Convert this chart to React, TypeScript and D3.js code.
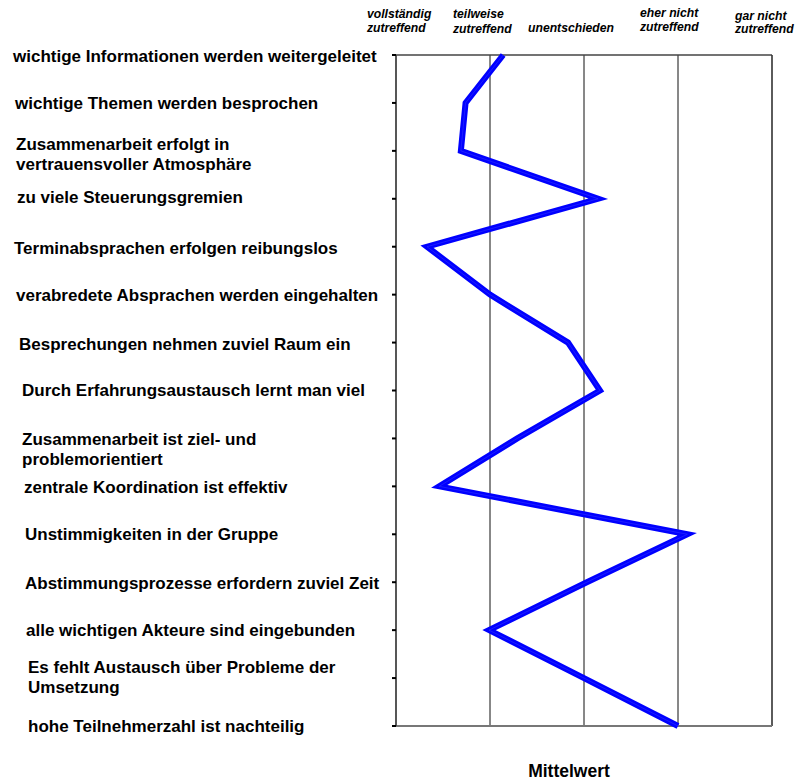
import React from "react";
import * as d3 from "d3";

const categories: string[][] = [
  ["wichtige Informationen werden weitergeleitet"],
  ["wichtige Themen werden besprochen"],
  ["Zusammenarbeit erfolgt in", "vertrauensvoller Atmosphäre"],
  ["zu viele Steuerungsgremien"],
  ["Terminabsprachen erfolgen reibungslos"],
  ["verabredete Absprachen werden eingehalten"],
  ["Besprechungen nehmen zuviel Raum ein"],
  ["Durch Erfahrungsaustausch lernt man viel"],
  ["Zusammenarbeit ist ziel- und", "problemorientiert"],
  ["zentrale Koordination ist effektiv"],
  ["Unstimmigkeiten in der Gruppe"],
  ["Abstimmungsprozesse erfordern zuviel Zeit"],
  ["alle wichtigen Akteure sind eingebunden"],
  ["Es fehlt Austausch über Probleme der", "Umsetzung"],
  ["hohe Teilnehmerzahl ist nachteilig"],
];

const meanValues: number[] = [2.14, 1.74, 1.69, 3.15, 1.33, 2.0, 2.83, 3.17, 2.29, 1.46, 4.1, 3.03, 1.99, 3.0, 4.0];

const scaleTicks: number[] = [1, 2, 3, 4, 5];
const scaleLabels: string[][] = [
  ["vollständig", "zutreffend"],
  ["teilweise", "zutreffend"],
  ["unentschieden"],
  ["eher nicht", "zutreffend"],
  ["gar nicht", "zutreffend"],
];

const axisTitle = "Mittelwert";

// layout tweaks (label jitter as in the original picture)
const labelLeft = [13, 15, 16, 17, 14, 16, 19, 22, 22, 24, 25, 25, 26, 28, 28];
const labelShift = [1, 0, 3, -2, 1, 0, 1, 0, 11, 1, 0, 1, 0, -1, 0];
const headerLeft = [367, 453, 528, 640, 735];
const headerTop = [[14, 27.5], [14, 29], [28], [12.5, 27], [16, 29]];

export default function App() {
  const W = 797, H = 780;
  const left = 396, right = 772, top = 55, bottom = 726;
  const x = d3.scaleLinear().domain([1, 5]).range([left, right]);
  const y = d3
    .scalePoint<number>()
    .domain(d3.range(categories.length))
    .range([top, bottom]);

  const line = d3
    .line<number>()
    .x((d) => x(d))
    .y((_, i) => y(i) as number);

  const font = "'Liberation Sans', Arial, sans-serif";

  return (
    <svg
      width={W}
      height={H}
      style={{ position: "absolute", left: 0, top: 0, background: "#fff" }}
      fontFamily={font}
    >
      <rect x={0} y={0} width={W} height={H} fill="#fff" />
      {/* inner gridlines */}
      {scaleTicks.slice(1, -1).map((t) => (
        <line key={t} x1={x(t)} x2={x(t)} y1={top} y2={bottom} stroke="#111" strokeWidth={1} />
      ))}
      {/* frame */}
      <line x1={left} x2={right} y1={top} y2={top} stroke="#444" strokeWidth={1.6} />
      <line x1={right} x2={right} y1={top} y2={bottom} stroke="#333" strokeWidth={1.6} />
      <line x1={left} x2={right} y1={bottom} y2={bottom} stroke="#777" strokeWidth={1.8} />
      <line x1={left} x2={left} y1={top} y2={bottom} stroke="#444" strokeWidth={1.8} />
      {/* left ticks */}
      {categories.map((_, i) => (
        <line
          key={i}
          x1={left - 4}
          x2={left}
          y1={y(i) as number}
          y2={y(i) as number}
          stroke="#000"
          strokeWidth={2}
        />
      ))}
      {/* data line */}
      <path
        d={line(meanValues) || ""}
        fill="none"
        stroke="#0000ff"
        strokeWidth={6}
        strokeLinejoin="miter"
        strokeMiterlimit={10}
      />
      <path
        d={line(meanValues) || ""}
        fill="none"
        stroke="#3a3aff"
        strokeWidth={0.8}
        strokeLinejoin="miter"
        opacity={0.6}
      />
      {/* category labels */}
      {categories.map((lines, i) => {
        const cy = (y(i) as number) + labelShift[i];
        const lh = 20;
        const start = cy - ((lines.length - 1) * lh) / 2;
        return (
          <text
            key={i}
            x={labelLeft[i]}
            fontSize={17}
            fontWeight="bold"
            fill="#000"
          >
            {lines.map((l, j) => (
              <tspan key={j} x={labelLeft[i]} y={start + j * lh} dy="0.35em">
                {l}
              </tspan>
            ))}
          </text>
        );
      })}
      {/* header scale labels */}
      {scaleLabels.map((lines, i) => (
        <text key={i} fontSize={12.2} fontWeight="bold" fontStyle="italic" fill="#000">
          {lines.map((l, j) => (
            <tspan key={j} x={headerLeft[i]} y={headerTop[i][j]} dy="0.35em">
              {l}
            </tspan>
          ))}
        </text>
      ))}
      {/* axis title */}
      <text
        x={(left + right) / 2 - 15}
        y={771}
        dy="0.35em"
        textAnchor="middle"
        fontSize={17.5}
        fontWeight="bold"
        fill="#000"
      >
        {axisTitle}
      </text>
    </svg>
  );
}
